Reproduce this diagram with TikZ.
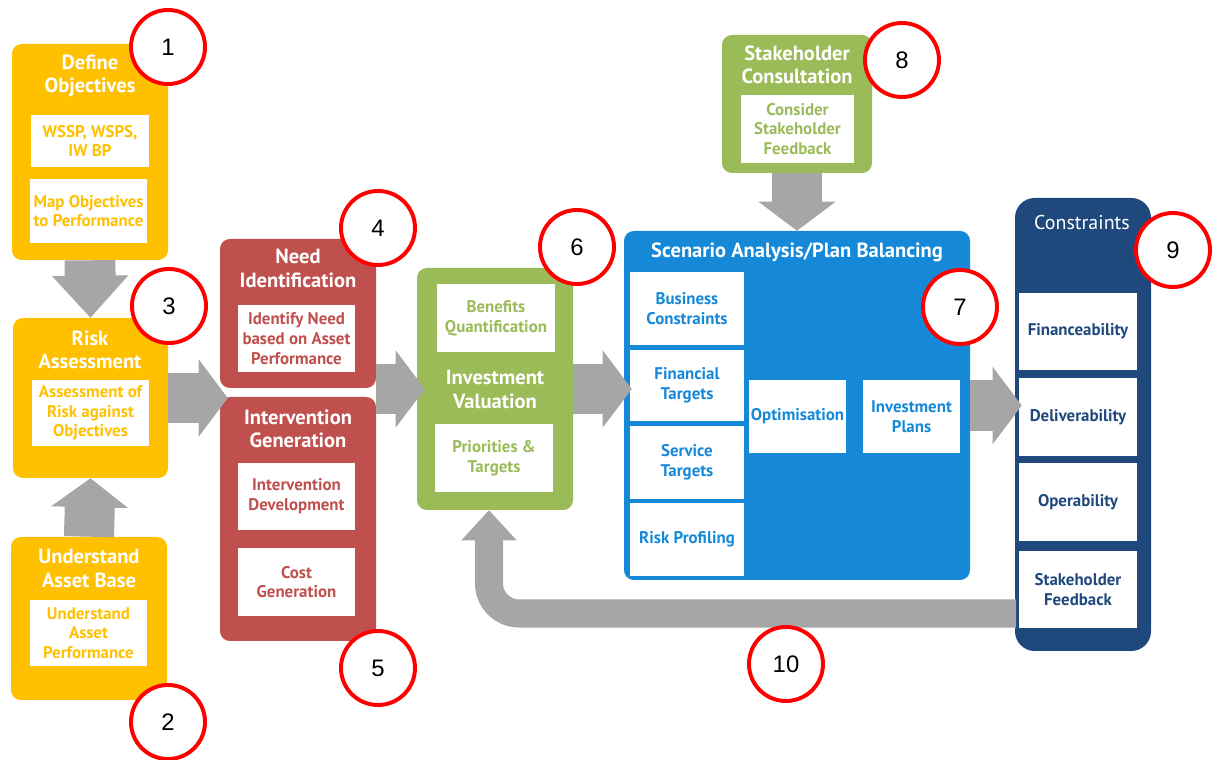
\documentclass[tikz,border=0pt]{standalone}
\usepackage{fontspec}
\setmainfont{PT Sans}
\newfontfamily\numfont{Liberation Sans}
\usetikzlibrary{arrows.meta,positioning,calc,fit}

\definecolor{objyellow}{HTML}{FFC000}
\definecolor{needred}{HTML}{C0504D}
\definecolor{valgreen}{HTML}{9BBB59}
\definecolor{scenblue}{HTML}{1589D8}
\definecolor{consnavy}{HTML}{1F497D}
\definecolor{flowgrey}{HTML}{A6A6A6}
\definecolor{markred}{HTML}{FF0000}

\tikzset{
  stage/.style={inner sep=0pt, rounded corners=7pt},
  item/.style={fill=white, inner sep=0pt},
  itemtext/.style={align=center, inner sep=0pt,
    font=\bfseries\fontsize{12}{14}\selectfont},
  title/.style={text=white, align=center,
    font=\bfseries\fontsize{14.6}{16.5}\selectfont},
  fat/.style={draw=flowgrey, line width=1.25cm,
    -{Triangle[length=0.725cm, width=1.925cm, line width=1pt]}},
  fatlong/.style={draw=flowgrey, line width=1.27cm,
    -{Triangle[length=1.05cm, width=1.9cm, line width=1pt]}},
  fatback/.style={draw=flowgrey, line width=0.7cm, rounded corners=0.75cm,
    -{Triangle[length=0.75cm, width=1.375cm, line width=1pt]}},
  numcirc/.style={circle, draw=markred, line width=2.8pt, fill=white,
    minimum size=1.85cm, inner sep=0pt, font=\numfont\fontsize{17}{20}\selectfont}
}

\begin{document}
\begin{tikzpicture}[x=0.025cm, y=-0.025cm]
  \useasboundingbox (0,0) rectangle (1213,760);

  % yellow stages
  \node (dobj) [stage, fill=objyellow, fit={(12,44) (168,260)}] {};
  \node (dobjt) [title] at (90,75.5) {Define\\Objectives};
  \node (wssp) [item, fit={(31,115) (149,167)},
    label={[itemtext, text=objyellow]center:{WSSP, WSPS,\\IW BP}}] {};
  \node (mapo) [item, fit={(30,179) (147,243)},
    label={[itemtext, text=objyellow]center:{Map Objectives\\to Performance}}] {};

  \node (risk) [stage, fill=objyellow, fit={(13,318) (168,478)}] {};
  \node (riskt) [title] at (90,349.5) {Risk\\Assessment};
  \node (arisk) [item, fit={(32,380) (149,446)},
    label={[itemtext, text=objyellow]center:{Assessment of\\Risk against\\Objectives}}] {};

  \node (base) [stage, fill=objyellow, fit={(11,537) (167,700)}] {};
  \node (baset) [title] at (89,568.5) {Understand\\Asset Base};
  \node (uperf) [item, fit={(30,600) (147,666)},
    label={[itemtext, text=objyellow]center:{Understand\\Asset\\Performance}}] {};

  % red stages
  \node (need) [stage, fill=needred, fit={(220,239) (376,388)}] {};
  \node (needt) [title] at (298,268.5) {Need\\Identification};
  \node (ineed) [item, fit={(238,305) (355,372)},
    label={[itemtext, text=needred]center:{Identify Need\\based on Asset\\Performance}}] {};

  \node (intv) [stage, fill=needred, fit={(220,397) (376,641)}] {};
  \node (intvt) [title] at (298,428.5) {Intervention\\Generation};
  \node (idev) [item, fit={(238,463) (355,530)},
    label={[itemtext, text=needred]center:{Intervention\\Development}}] {};
  \node (cost) [item, fit={(238,548) (355,616)},
    label={[itemtext, text=needred]center:{Cost\\Generation}}] {};

  % green stages
  \node (val) [stage, fill=valgreen, fit={(417,268) (573,510)}] {};
  \node (valt) [title] at (495,389.5) {Investment\\Valuation};
  \node (bq) [item, fit={(437,284) (555,352)},
    label={[itemtext, text=valgreen]center:{Benefits\\Quantification}}] {};
  \node (prio) [item, fit={(435,424) (553,492)},
    label={[itemtext, text=valgreen]center:{Priorities \&\\Targets}}] {};

  \node (stake) [stage, fill=valgreen, fit={(722,35) (872,173)}] {};
  \node (staket) [title] at (797,64.5) {Stakeholder\\Consultation};
  \node (csf) [item, fit={(741,95) (854,163)},
    label={[itemtext, text=valgreen]center:{Consider\\Stakeholder\\Feedback}}] {};

  % scenario analysis
  \node (scen) [stage, fill=scenblue, fit={(624,231) (970,580)}] {};
  \node (scent) [title] at (797,252) {Scenario Analysis/Plan Balancing};
  \node (busc) [item, fit={(630,272) (744,345)},
    label={[itemtext, text=scenblue]center:{Business\\Constraints}}] {};
  \node (fint) [item, fit={(630,350) (744,421)},
    label={[itemtext, text=scenblue]center:{Financial\\Targets}}] {};
  \node (sert) [item, fit={(630,426) (744,499)},
    label={[itemtext, text=scenblue]center:{Service\\Targets}}] {};
  \node (riskp) [item, fit={(630,503) (744,576)},
    label={[itemtext, text=scenblue]center:{Risk Profiling}}] {};
  \node (optim) [item, fit={(749,380) (846,453)},
    label={[itemtext, text=scenblue]center:{Optimisation}}] {};
  \node (iplan) [item, fit={(863,380) (960,453)},
    label={[itemtext, text=scenblue]center:{Investment\\Plans}}] {};

  % constraints
  \node (cons) [stage, rounded corners=14pt, fill=consnavy, fit={(1015,198) (1151,651)}] {};
  \node (const) [title, font=\fontsize{14.2}{16.5}\selectfont] at (1082,223) {Constraints};
  \node (finc) [item, fit={(1019,293) (1137,370)},
    label={[itemtext, text=consnavy]center:{Financeability}}] {};
  \node (deli) [item, fit={(1019,378) (1137,456)},
    label={[itemtext, text=consnavy]center:{Deliverability}}] {};
  \node (oper) [item, fit={(1019,463) (1137,541)},
    label={[itemtext, text=consnavy]center:{Operability}}] {};
  \node (sfb) [item, fit={(1019,551) (1137,628)},
    label={[itemtext, text=consnavy]center:{Stakeholder\\Feedback}}] {};

  % flow arrows
  \draw [fatlong] (dobj.south) -- (risk.north);
  \draw [fat] (base.north) -- (risk.south);
  \draw [fat] (risk.east) -- ($(risk.east -| intv.west)+(8,0)$);
  \draw [fat] (val.west -| need.east) -- ($(val.west)+(8,0)$);
  \draw [fat] (val.east) -- ($(val.east -| scen.west)+(8,0)$);
  \draw [fat] (scen.east) -- ($(scen.east -| cons.west)+(7,0)$);
  \draw [fat] (stake.south) -- (scen.north);
  \coordinate (retin) at (1016,613.5);
  \coordinate (rettip) at ($(val.south)+(-6,0)$);
  \draw [fatback] (retin) -- (rettip |- retin) -- (rettip);

  % step numbers
  \node (c1) [numcirc] at (168,47) {1};
  \node (c2) [numcirc] at (168,722) {2};
  \node (c3) [numcirc] at (169,306) {3};
  \node (c4) [numcirc] at (378,228) {4};
  \node (c5) [numcirc] at (378,668) {5};
  \node (c6) [numcirc] at (577,247) {6};
  \node (c7) [numcirc] at (960,307) {7};
  \node (c8) [numcirc] at (902,60) {8};
  \node (c9) [numcirc] at (1173,250) {9};
  \node (c10) [numcirc] at (786,664) {10};
\end{tikzpicture}
\end{document}
